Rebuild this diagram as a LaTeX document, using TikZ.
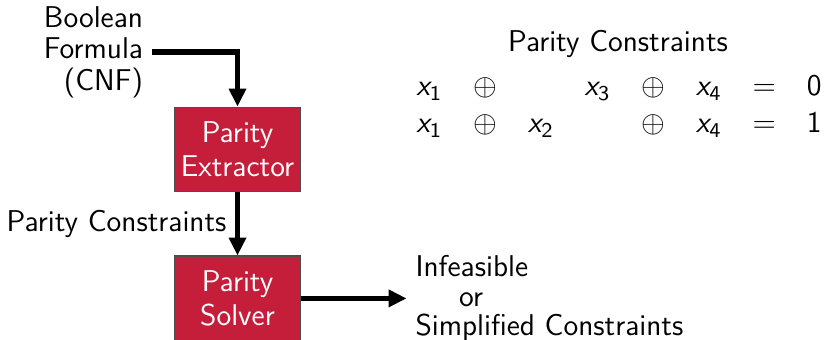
\documentclass[tikz,border=0pt]{standalone}
\usepackage{amsmath}
\usepackage{fontspec}
\usetikzlibrary{arrows.meta, positioning, matrix}

\definecolor{parityred}{RGB}{196,30,58}
\newcommand{\xs}[1]{\text{\itshape x}_{\text{#1}}}

\tikzset{
  block/.style={draw=black!70, fill=parityred, text=white, align=center,
    minimum width=1.75cm, minimum height=1.17cm, inner sep=1pt,
    font=\sffamily\fontsize{11.8}{13.4}\selectfont},
  flow/.style={line width=2pt, -{Triangle[length=7pt, width=6.5pt]}},
}

\begin{document}
\begin{tikzpicture}[x=0.0138cm, y=-0.0138cm,
    font=\sffamily\fontsize{11.8}{12.4}\selectfont]
    \useasboundingbox (0,0) rectangle (824,340);

    % the two stages
    \node[block] (extract) at (237.5,149.5) {Parity\\Extractor};
    \node[block, below=0.87cm of extract] (solver) {Parity\\Solver};

    % input
    \node[align=right, anchor=east] (cnf) at (152,52) {Boolean\\Formula\\(CNF)};
    \coordinate (turn) at (extract.north |- cnf.east);
    \draw[flow] (cnf.east) -- (turn) -- (extract.north);

    \draw[flow] (extract) -- (solver)
        node[midway, left=0pt] (pc) {Parity Constraints};

    % output
    \node[right=1.45cm of solver, align=left,
          font=\sffamily\fontsize{11.8}{11.6}\selectfont] (result)
        {Infeasible\\\hspace{1.45em}or\\Simplified Constraints};
    \draw[flow] (solver.east) -- (result.west);

    % example constraints
    \node (ptitle) at (618,44) {Parity Constraints};
    \matrix (parity) [matrix of math nodes, row sep=3.5pt, column sep=12.1pt,
        nodes={inner sep=0pt, text height=8pt, text depth=3pt}]
        at (619,108) {
        \xs{1} & \oplus &        & \xs{3} & \oplus & \xs{4} & = & \text{0} \\
        \xs{1} & \oplus & \xs{2} &        & \oplus & \xs{4} & = & \text{1} \\
    };
\end{tikzpicture}
\end{document}
